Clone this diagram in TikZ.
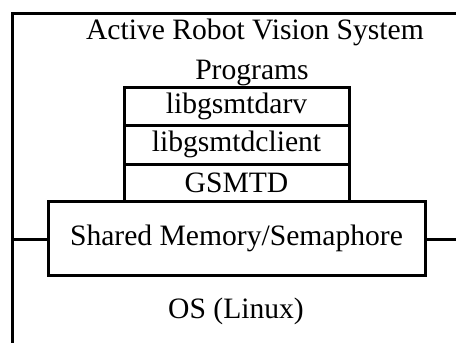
\documentclass[tikz,border=0pt]{standalone}
\usepackage{fontspec}
\setmainfont{Liberation Serif}
\usetikzlibrary{positioning}

\begin{document}
\begin{tikzpicture}[x=0.5pt, y=-0.5pt, line width=1.5pt,
    font=\fontsize{14.8}{17}\selectfont,
    layer/.style={draw, inner sep=0pt, outer sep=0pt, minimum width=112.5pt, align=center},
    caption/.style={inner sep=0pt}]
    \useasboundingbox (0,0) rectangle (456,343);

    % Cadre du systeme (haut et gauche seulement)
    \coordinate (frTR) at (456,13);
    \coordinate (frTL) at (12,13);
    \coordinate (frBL) at (12,343);
    \draw (frTR) -- (frTL) -- (frBL);

    % Titres
    \node[caption] (arvs) at (255,32) {Active Robot Vision System};
    \node[caption] (progs) at (252,73) {Programs};

    % Pile des bibliotheques
    \node[layer, minimum height=19pt] (darv) at (236.5,106) {libgsmtdarv};
    \node[layer, minimum height=19.5pt, below=0pt of darv] (client) {libgsmtdclient};
    \node[layer, minimum height=18.5pt, below=0pt of client] (gsmtd) {GSMTD};

    % Memoire partagee
    \node[layer, minimum width=188.5pt, minimum height=37pt, below=0pt of gsmtd] (shm) {Shared Memory/Semaphore};

    % Liaisons vers le cadre
    \coordinate (shmL) at (12,239);
    \coordinate (shmR) at (456,239);
    \draw (shmL) -- (shm.west |- shmL);
    \draw (shm.east |- shmR) -- (shmR);

    \node[caption] (os) at (236,311) {OS (Linux)};
\end{tikzpicture}
\end{document}
